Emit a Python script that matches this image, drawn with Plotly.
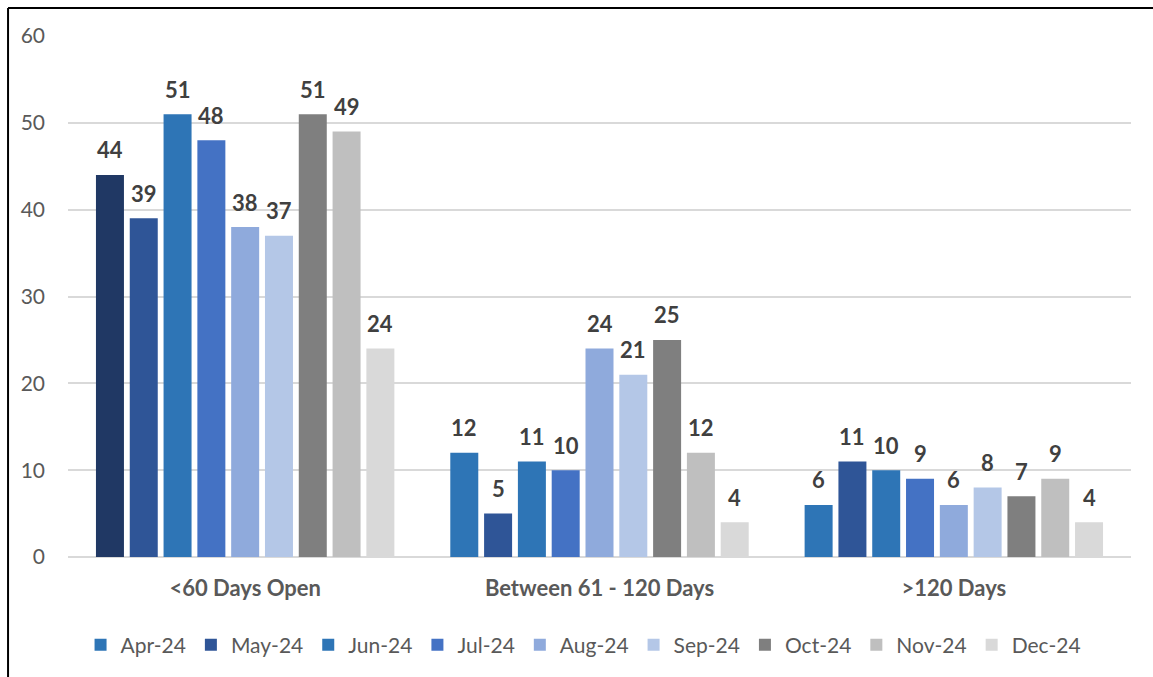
import plotly.graph_objects as go

# Aging buckets and monthly counts
categories = ["<60 Days Open", "Between 61 - 120 Days", ">120 Days"]
months = ["Apr-24", "May-24", "Jun-24", "Jul-24", "Aug-24", "Sep-24", "Oct-24", "Nov-24", "Dec-24"]

apr_24 = [44, 12, 6]
may_24 = [39, 5, 11]
jun_24 = [51, 11, 10]
jul_24 = [48, 10, 9]
aug_24 = [38, 24, 6]
sep_24 = [37, 21, 8]
oct_24 = [51, 25, 7]
nov_24 = [49, 12, 9]
dec_24 = [24, 4, 4]

series = [apr_24, may_24, jun_24, jul_24, aug_24, sep_24, oct_24, nov_24, dec_24]

colors = ["#2E75B6", "#2F5597", "#2E75B6", "#4472C4", "#8FAADC",
          "#B4C7E7", "#7F7F7F", "#BFBFBF", "#D9D9D9"]
# the first Apr-24 bar is drawn in a darker navy
apr_first_color = "#203864"

FONT = "Lato"
LABEL_COLOR = "#404040"
AXIS_COLOR = "#595959"

slot = 0.0954      # distance between neighbouring bars, in category units
bar_w = 0.079      # bar width, in category units
n = len(months)

fig = go.Figure()
annotations = []
for i, (name, vals, col) in enumerate(zip(months, series, colors)):
    center = (i - (n - 1) / 2) * slot
    bar_colors = [col] * len(vals)
    xs = list(categories)
    ys = list(vals)
    if i == 0:
        bar_colors[0] = apr_first_color
        # rotate the points so the legend swatch takes the regular colour
        xs = xs[1:] + xs[:1]
        ys = ys[1:] + ys[:1]
        bar_colors = bar_colors[1:] + bar_colors[:1]
    fig.add_trace(go.Bar(
        x=xs, y=ys, name=name,
        marker=dict(color=bar_colors, line=dict(width=0)),
        width=bar_w, offset=center - bar_w / 2,
        hoverinfo="x+y+name",
    ))
    for k, v in enumerate(vals):
        annotations.append(dict(
            x=k + center, y=v, xref="x", yref="y",
            text=f"<b>{v}</b>", showarrow=False,
            yanchor="middle", yshift=25,
            font=dict(family=FONT, size=22, color=LABEL_COLOR),
        ))

# frame lines along the left and top edges
shapes = [
    dict(type="line", xref="paper", yref="paper",
         x0=-0.0564, x1=-0.0564, y0=-0.25, y1=1.0536,
         line=dict(color="black", width=2)),
    dict(type="line", xref="paper", yref="paper",
         x0=-0.0564, x1=1.03, y0=1.0536, y1=1.0536,
         line=dict(color="black", width=2)),
]

fig.update_layout(
    width=1153, height=677,
    margin=dict(l=68, r=22, t=36, b=119),
    barmode="overlay",
    plot_bgcolor="white", paper_bgcolor="white",
    font=dict(family=FONT, color=AXIS_COLOR, size=21),
    showlegend=True,
    legend=dict(
        orientation="h", x=0.485, xanchor="center", y=-0.167, yanchor="middle",
        font=dict(family=FONT, size=21, color=AXIS_COLOR),
        traceorder="normal", itemclick=False,
    ),
    xaxis=dict(
        type="category", categoryorder="array", categoryarray=categories,
        range=[-0.5, 2.5], showgrid=False, showline=False, zeroline=False,
        ticks="", ticklabelstandoff=16,
        tickfont=dict(family=FONT, size=22, color=AXIS_COLOR),
        tickprefix="<b>", ticksuffix="</b>",
    ),
    yaxis=dict(
        range=[0, 60], dtick=10, showgrid=True, gridcolor="#D9D9D9", gridwidth=2,
        zeroline=True, zerolinecolor="#D9D9D9", zerolinewidth=2,
        showline=False, ticks="", ticklabelstandoff=22,
        tickfont=dict(family=FONT, size=21, color=AXIS_COLOR),
    ),
    annotations=annotations,
    shapes=shapes,
)

fig.write_html("out.html")
